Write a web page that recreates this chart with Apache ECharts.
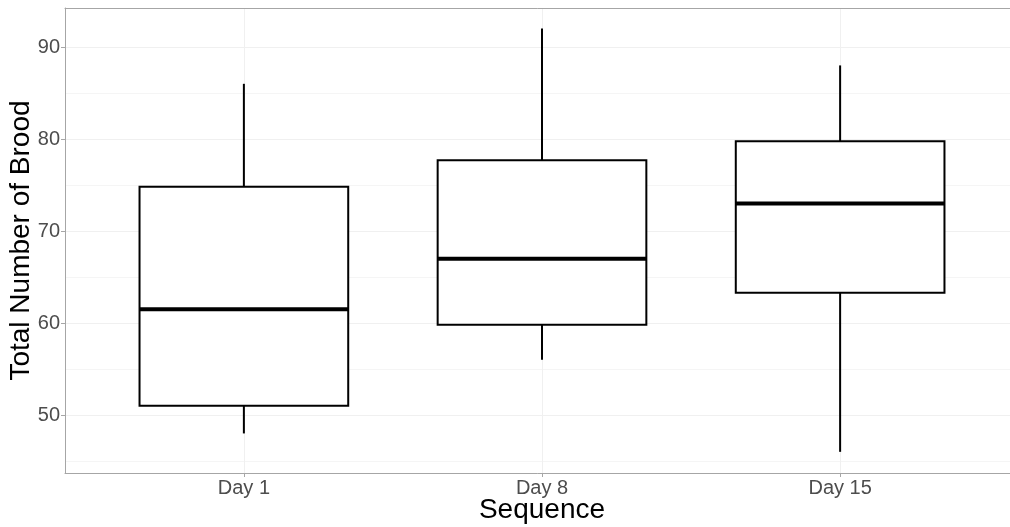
<!DOCTYPE html>
<html>
<head>
<meta charset="utf-8">
<script src="https://cdn.jsdelivr.net/npm/echarts@6/dist/echarts.min.js"></script>
<style>
  html, body { margin: 0; padding: 0; background: #fff; }
  #chart { width: 1010px; height: 527px; }
</style>
</head>
<body>
<div id="chart"></div>
<script>
// Boxplot stats per day
const categories = ['Day 1', 'Day 8', 'Day 15']
const lows = [48, 56, 46]
const q1s = [51, 59.8, 63.3]
const medians = [61.5, 67, 73]
const q3s = [74.8, 77.7, 79.75]
const highs = [86, 92, 88]

const yTicks = [50, 60, 70, 80, 90]
const yMinor = [45, 55, 65, 75, 85]
const xTicks = [1, 2, 3]

const BOX_HALF = 0.35
const boxData = categories.map((c, i) => [i + 1, lows[i], q1s[i], medians[i], q3s[i], highs[i]])

const chart = echarts.init(document.getElementById('chart'))

const frame = { show: true, lineStyle: { color: '#a6a6a6', width: 1 } }
const gridLine = { show: true, lineStyle: { color: '#f0f0f0', width: 1 } }
const labelFont = { fontFamily: 'Liberation Sans, Arial, sans-serif', fontSize: 20, color: '#4d4d4d' }
const titleFont = { fontFamily: 'Liberation Sans, Arial, sans-serif', fontSize: 28, color: '#000' }

chart.setOption({
  animation: false,
  backgroundColor: '#fff',
  grid: {
    left: 65, right: -9, top: 8, bottom: 54,
    outerBoundsMode: 'none',
    containLabel: false
  },
  xAxis: [
    {
      type: 'value',
      min: 0.4,
      max: 3.6,
      name: 'Sequence',
      nameLocation: 'middle',
      nameGap: 23,
      nameMoveOverlap: false,
      nameTextStyle: titleFont,
      axisLine: frame,
      axisTick: { show: true, length: 4, customValues: xTicks, lineStyle: { color: '#a6a6a6' } },
      axisLabel: {
        customValues: xTicks,
        margin: 5,
        ...labelFont,
        formatter: (v) => categories[Math.round(v) - 1] || ''
      },
      splitLine: gridLine
    },
    {
      type: 'value',
      position: 'top',
      min: 0.4,
      max: 3.6,
      axisLine: frame,
      axisTick: { show: false },
      axisLabel: { show: false },
      splitLine: { show: false }
    }
  ],
  yAxis: [
    {
      type: 'value',
      min: 43.7,
      max: 94.24,
      name: 'Total Number of Brood',
      nameLocation: 'middle',
      nameGap: 30,
      nameMoveOverlap: false,
      nameTextStyle: titleFont,
      axisLine: frame,
      axisTick: { show: true, length: 4, customValues: yTicks, lineStyle: { color: '#a6a6a6' } },
      axisLabel: { customValues: yTicks, margin: 5, ...labelFont },
      splitLine: gridLine
    },
    {
      type: 'value',
      position: 'left',
      min: 43.7,
      max: 94.24,
      axisLine: { show: false },
      axisTick: { show: false, customValues: yMinor },
      axisLabel: { show: false, customValues: yMinor },
      splitLine: { show: true, lineStyle: { color: '#f5f5f5', width: 1 } }
    }
  ],
  series: [
    {
      type: 'custom',
      data: boxData,
      encode: { x: 0, y: [1, 2, 3, 4, 5] },
      renderItem: (params, api) => {
        const x = api.value(0)
        const lo = api.coord([x, api.value(1)])
        const q1 = api.coord([x, api.value(2)])
        const med = api.coord([x, api.value(3)])
        const q3 = api.coord([x, api.value(4)])
        const hi = api.coord([x, api.value(5)])
        const left = api.coord([x - BOX_HALF, api.value(3)])[0]
        const right = api.coord([x + BOX_HALF, api.value(3)])[0]
        const stroke = { stroke: '#000', lineWidth: 2 }
        return {
          type: 'group',
          children: [
            { type: 'line', shape: { x1: lo[0], y1: lo[1], x2: q1[0], y2: q1[1] }, style: stroke },
            { type: 'line', shape: { x1: q3[0], y1: q3[1], x2: hi[0], y2: hi[1] }, style: stroke },
            {
              type: 'rect',
              shape: { x: left, y: q3[1], width: right - left, height: q1[1] - q3[1] },
              style: { fill: '#fff', stroke: '#000', lineWidth: 2 }
            },
            { type: 'line', shape: { x1: left, y1: med[1], x2: right, y2: med[1] }, style: { stroke: '#000', lineWidth: 4 } }
          ]
        }
      }
    }
  ]
})
</script>
</body>
</html>
